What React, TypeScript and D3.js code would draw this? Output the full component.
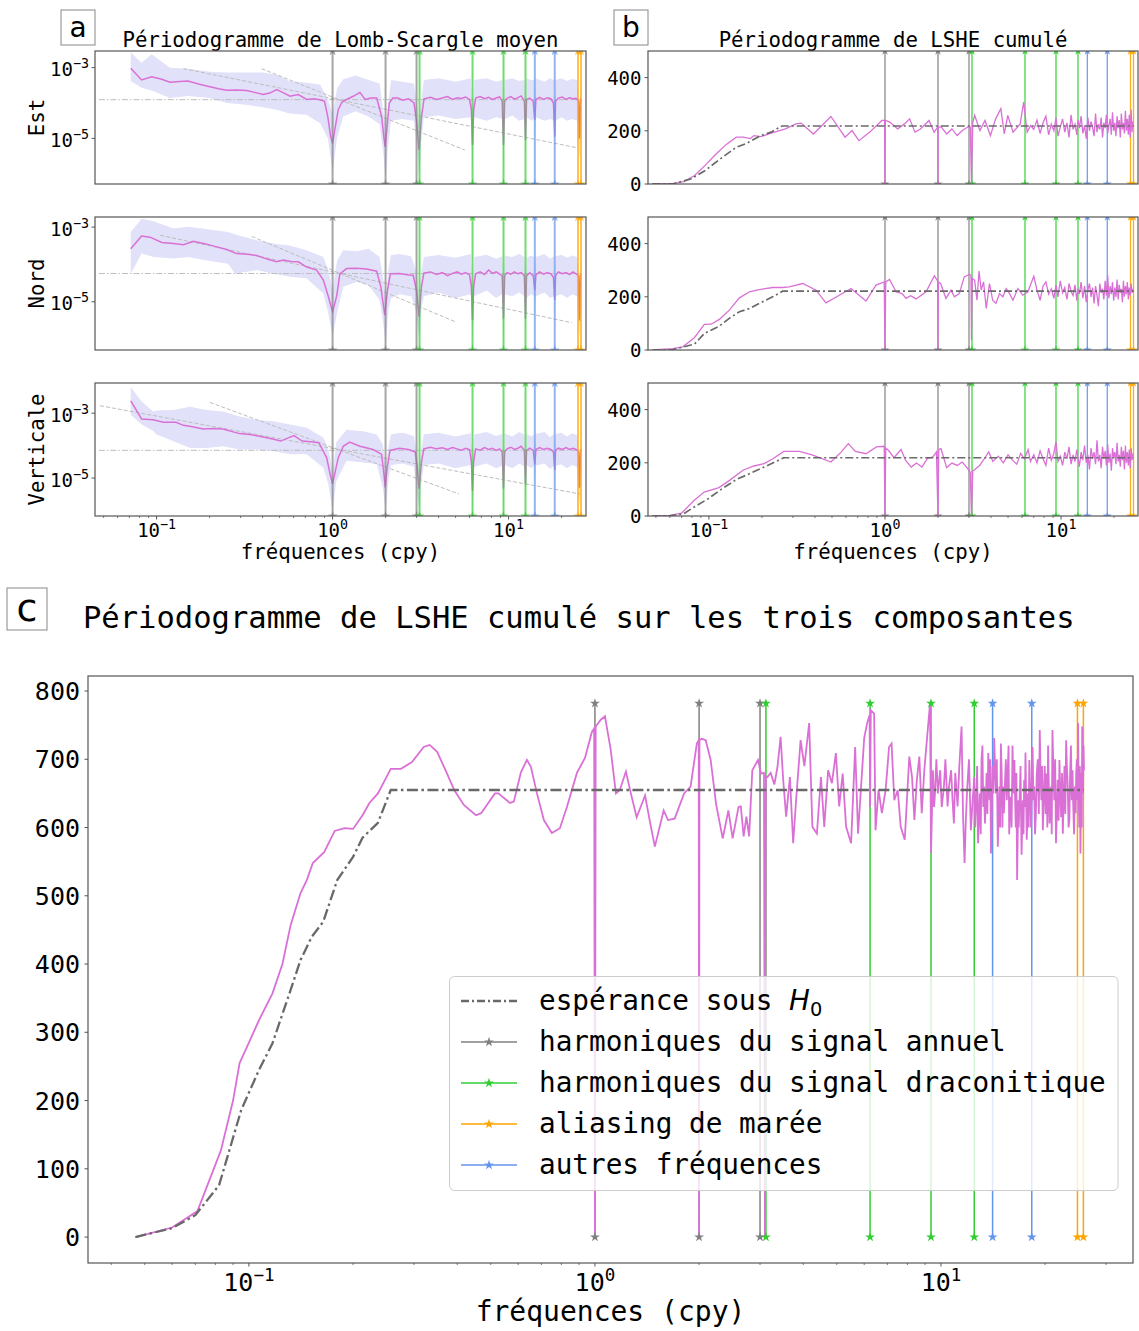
import React from 'react';
import * as d3 from 'd3';

type Pt = [number, number];
type Bd = [number, number, number];

// ===== Marked signal frequencies (cycles per year) =====
const annualFreqs = [1, 2, 3];
const draconiticFreqs = [3.12, 6.24, 9.36, 12.48];
const tidalAliasFreqs = [24.8, 25.8];
const otherFreqs = [14.1, 18.3];

// ===== Texts =====
const titleA = 'Périodogramme de Lomb-Scargle moyen';
const titleB = 'Périodogramme de LSHE cumulé';
const titleC = 'Périodogramme de LSHE cumulé sur les trois composantes';
const xLabelText = 'fréquences (cpy)';
const rowLabels = ['Est', 'Nord', 'Verticale'];
const legendLabels = ['espérance sous ', 'harmoniques du signal annuel', 'harmoniques du signal draconitique', 'aliasing de marée', 'autres fréquences'];
const freqTickExps = [-1, 0, 1];
const lombTickExps = [-3, -5];
const lsheTicksB = [0, 200, 400];
const lsheTicksC = [0, 100, 200, 300, 400, 500, 600, 700, 800];
const stemTopC = 782;

// ===== Panel a: mean Lomb-Scargle periodogram, log10 of power =====
const estMean: Pt[] = [[0.0713,-3.02],[0.0822,-3.35],[0.0938,-3.26],[0.107,-3.33],[0.119,-3.41],[0.135,-3.39],[0.151,-3.38],[0.175,-3.47],[0.201,-3.54],[0.225,-3.6],[0.25,-3.64],[0.285,-3.63],[0.325,-3.65],[0.36,-3.7],[0.403,-3.76],[0.44,-3.72],[0.481,-3.62],[0.52,-3.7],[0.573,-3.81],[0.638,-3.76],[0.713,-3.9],[0.78,-3.88],[0.848,-3.91],[0.9,-3.95],[0.94,-4.4],[0.975,-4.95],[1.0,-5.14],[1.03,-4.75],[1.077,-4.19],[1.13,-3.98],[1.2,-3.9],[1.31,-3.81],[1.43,-3.7],[1.53,-3.9],[1.65,-3.86],[1.78,-3.86],[1.9,-4.38],[1.96,-5.0],[1.99,-5.24],[2.03,-4.8],[2.1,-4.0],[2.2,-3.86],[2.35,-3.86],[2.5,-3.92],[2.7,-3.88],[2.9,-4.0],[3.0,-4.5],[3.1,-5.33],[3.2,-4.4],[3.31,-3.88],[3.6,-3.84],[3.9,-3.9],[4.2,-3.86],[4.5,-3.82],[4.8,-3.9],[5.1,-3.85],[5.4,-3.87],[5.7,-3.83],[6.0,-3.9],[6.15,-4.2],[6.24,-5.19],[6.33,-4.2],[6.5,-3.86],[6.9,-3.82],[7.3,-3.88],[7.7,-3.84],[8.1,-3.9],[8.5,-3.86],[8.9,-3.83],[9.2,-3.95],[9.36,-5.19],[9.5,-3.95],[9.8,-3.87],[10.3,-3.82],[10.8,-3.89],[11.3,-3.85],[11.8,-3.8],[12.3,-3.95],[12.48,-5.05],[12.65,-3.9],[13.2,-3.86],[13.8,-3.95],[14.1,-4.48],[14.3,-3.9],[15.0,-3.84],[15.8,-3.9],[16.6,-3.85],[17.4,-3.88],[18.0,-4.0],[18.3,-4.95],[18.5,-3.95],[19.2,-3.86],[20.2,-3.83],[21.2,-3.9],[22.2,-3.85],[23.2,-3.88],[24.2,-3.87],[25.0,-3.95],[25.3,-5.0],[25.6,-3.95],[25.9,-3.88]];
const estBand: Bd[] = [[0.0713,-3.38,-2.57],[0.0822,-3.57,-2.86],[0.0938,-3.65,-2.62],[0.119,-3.86,-3.0],[0.151,-3.8,-3.03],[0.2,-3.86,-3.12],[0.25,-4.0,-3.14],[0.32,-4.05,-3.14],[0.4,-4.12,-3.14],[0.48,-4.19,-3.2],[0.57,-4.3,-3.38],[0.71,-4.33,-3.43],[0.85,-4.57,-3.48],[0.94,-5.0,-3.9],[1.0,-5.95,-4.3],[1.06,-5.0,-3.6],[1.15,-4.38,-3.33],[1.35,-4.23,-3.22],[1.6,-4.38,-3.35],[1.85,-4.6,-3.45],[1.95,-5.5,-4.3],[2.0,-6.19,-4.6],[2.06,-5.3,-4.1],[2.15,-4.5,-3.35],[2.5,-4.45,-3.4],[2.9,-4.5,-3.45],[3.05,-5.5,-4.2],[3.1,-6.1,-4.6],[3.18,-5.2,-4.0],[3.3,-4.4,-3.35],[4.0,-4.35,-3.3],[5.0,-4.45,-3.4],[6.1,-4.4,-3.3],[6.24,-5.8,-4.5],[6.38,-4.4,-3.35],[7.5,-4.5,-3.3],[8.5,-4.4,-3.4],[9.2,-4.45,-3.35],[9.36,-5.8,-4.5],[9.5,-4.45,-3.35],[10.5,-4.35,-3.3],[11.5,-4.5,-3.38],[12.3,-4.45,-3.35],[12.48,-5.6,-4.4],[12.65,-4.4,-3.3],[13.5,-4.5,-3.36],[13.95,-4.45,-3.35],[14.1,-5.1,-4.0],[14.25,-4.4,-3.3],[16,-4.5,-3.4],[17.2,-4.45,-3.3],[18.1,-4.5,-3.35],[18.3,-5.4,-4.2],[18.5,-4.5,-3.35],[20,-4.4,-3.3],[21.5,-4.5,-3.38],[23,-4.45,-3.32],[24.5,-4.5,-3.35],[25.3,-5.6,-4.4],[25.9,-4.45,-3.35]];
const nordMean: Pt[] = [[0.0713,-3.58],[0.0822,-3.24],[0.0918,-3.27],[0.107,-3.41],[0.125,-3.44],[0.142,-3.47],[0.162,-3.38],[0.19,-3.45],[0.22,-3.53],[0.25,-3.6],[0.285,-3.71],[0.33,-3.73],[0.37,-3.76],[0.42,-3.85],[0.481,-3.93],[0.525,-3.88],[0.58,-3.92],[0.638,-3.93],[0.713,-4.07],[0.812,-4.15],[0.886,-4.42],[0.945,-4.85],[1.0,-5.27],[1.055,-4.85],[1.1,-4.25],[1.2,-4.11],[1.37,-4.1],[1.56,-4.12],[1.78,-4.18],[1.88,-4.6],[1.98,-5.36],[2.05,-4.7],[2.13,-4.25],[2.4,-4.24],[2.7,-4.28],[2.87,-4.29],[3.0,-4.7],[3.1,-5.4],[3.2,-4.6],[3.3,-4.23],[3.6,-4.2],[3.9,-4.27],[4.2,-4.22],[4.5,-4.3],[4.8,-4.24],[5.1,-4.2],[5.4,-4.26],[5.7,-4.22],[6.0,-4.28],[6.15,-4.6],[6.24,-5.49],[6.33,-4.6],[6.5,-4.25],[6.9,-4.2],[7.3,-4.27],[7.7,-4.15],[8.1,-4.24],[8.5,-4.2],[8.9,-4.26],[9.2,-4.3],[9.36,-5.45],[9.5,-4.3],[9.8,-4.22],[10.3,-4.26],[10.8,-4.2],[11.3,-4.25],[11.8,-4.22],[12.3,-4.3],[12.48,-5.45],[12.65,-4.3],[13.2,-4.22],[13.8,-4.3],[14.1,-4.69],[14.3,-4.28],[15.0,-4.2],[15.8,-4.26],[16.6,-4.22],[17.4,-4.25],[18.0,-4.35],[18.3,-4.95],[18.5,-4.3],[19.2,-4.2],[20.2,-4.25],[21.2,-4.22],[22.2,-4.27],[23.2,-4.2],[24.2,-4.25],[25.0,-4.3],[25.3,-5.5],[25.6,-4.3],[25.9,-4.25]];
const nordBand: Bd[] = [[0.0713,-4.25,-3.13],[0.0822,-3.71,-2.78],[0.097,-3.8,-2.85],[0.125,-3.84,-3.04],[0.151,-3.8,-2.99],[0.19,-3.89,-3.05],[0.254,-3.98,-3.13],[0.28,-4.25,-3.2],[0.32,-4.2,-3.27],[0.37,-4.15,-3.35],[0.46,-4.25,-3.44],[0.57,-4.33,-3.49],[0.71,-4.37,-3.62],[0.886,-4.78,-3.8],[0.945,-5.3,-4.15],[1.0,-5.93,-4.69],[1.06,-5.3,-3.9],[1.15,-4.6,-3.62],[1.37,-4.47,-3.65],[1.6,-4.55,-3.58],[1.85,-4.95,-3.8],[1.93,-5.5,-4.3],[2.0,-6.1,-4.9],[2.08,-5.2,-4.1],[2.15,-4.9,-3.75],[2.4,-4.8,-3.72],[2.8,-4.85,-3.78],[3.0,-5.3,-4.2],[3.1,-6.0,-4.9],[3.2,-5.2,-4.2],[3.3,-4.85,-3.8],[4.0,-4.75,-3.75],[5.0,-4.9,-3.82],[6.1,-4.8,-3.72],[6.24,-6.0,-4.9],[6.38,-4.85,-3.8],[7.5,-4.7,-3.74],[8.5,-4.9,-3.85],[9.2,-4.8,-3.78],[9.36,-6.0,-4.9],[9.5,-4.8,-3.76],[10.5,-4.85,-3.8],[11.5,-4.75,-3.72],[12.3,-4.85,-3.8],[12.48,-5.9,-4.8],[12.65,-4.9,-3.82],[13.5,-4.8,-3.76],[13.95,-4.85,-3.8],[14.1,-5.3,-4.2],[14.25,-4.85,-3.8],[16,-4.75,-3.72],[17.2,-4.9,-3.85],[18.1,-4.85,-3.78],[18.3,-5.5,-4.4],[18.5,-4.85,-3.78],[20,-4.8,-3.74],[21.5,-4.9,-3.82],[23,-4.8,-3.76],[24.5,-4.85,-3.8],[25.3,-6.0,-4.9],[25.9,-4.9,-3.8]];
const vertMean: Pt[] = [[0.0713,-2.62],[0.0822,-3.18],[0.0957,-3.2],[0.109,-3.28],[0.129,-3.28],[0.142,-3.375],[0.16,-3.42],[0.184,-3.49],[0.21,-3.47],[0.238,-3.49],[0.296,-3.63],[0.34,-3.66],[0.384,-3.71],[0.45,-3.79],[0.507,-3.86],[0.56,-3.76],[0.603,-3.69],[0.672,-3.86],[0.75,-3.88],[0.835,-3.91],[0.925,-4.37],[0.97,-4.9],[1.0,-5.18],[1.035,-4.8],[1.077,-4.37],[1.15,-4.02],[1.25,-3.89],[1.43,-4.02],[1.7,-4.12],[1.9,-4.27],[1.96,-4.9],[1.99,-5.29],[2.04,-4.7],[2.12,-4.15],[2.4,-4.08],[2.7,-4.12],[2.95,-4.2],[3.03,-4.7],[3.1,-5.33],[3.2,-4.5],[3.3,-4.1],[3.6,-4.05],[3.9,-4.1],[4.2,-4.07],[4.5,-4.12],[4.8,-4.06],[5.1,-4.1],[5.4,-4.14],[5.7,-4.08],[6.0,-4.12],[6.15,-4.5],[6.24,-5.4],[6.33,-4.5],[6.5,-4.1],[6.9,-4.14],[7.3,-4.06],[7.7,-4.12],[8.1,-4.08],[8.5,-4.15],[8.9,-4.1],[9.2,-4.2],[9.36,-5.33],[9.5,-4.2],[9.8,-4.1],[10.3,-4.05],[10.8,-4.12],[11.3,-4.08],[11.8,-4.02],[12.3,-4.15],[12.48,-5.2],[12.65,-4.15],[13.2,-4.08],[13.8,-4.15],[14.1,-4.57],[14.3,-4.12],[15.0,-4.06],[15.8,-4.12],[16.6,-4.08],[17.4,-4.12],[18.0,-4.2],[18.3,-4.75],[18.5,-4.15],[19.2,-4.08],[20.2,-4.12],[21.2,-4.06],[22.2,-4.12],[23.2,-4.08],[24.2,-4.12],[25.0,-4.2],[25.3,-5.3],[25.6,-4.2],[25.9,-4.12]];
const vertBand: Bd[] = [[0.0713,-3.05,-2.19],[0.0822,-3.35,-2.64],[0.0957,-3.55,-2.95],[0.1,-3.66,-2.92],[0.124,-3.86,-2.9],[0.155,-4.07,-2.8],[0.192,-4.07,-2.9],[0.238,-4.02,-2.95],[0.296,-4.12,-3.1],[0.37,-4.12,-3.2],[0.46,-4.17,-3.25],[0.573,-4.27,-3.35],[0.713,-4.27,-3.45],[0.886,-4.68,-3.76],[0.945,-5.18,-4.1],[1.0,-6.0,-4.78],[1.05,-5.1,-3.9],[1.2,-4.47,-3.51],[1.49,-4.52,-3.56],[1.78,-4.57,-3.66],[1.93,-5.3,-3.96],[2.0,-6.0,-4.7],[2.08,-5.0,-4.0],[2.15,-4.6,-3.65],[2.5,-4.55,-3.6],[2.9,-4.65,-3.7],[3.0,-5.3,-4.2],[3.1,-5.95,-4.75],[3.2,-5.1,-4.1],[3.3,-4.6,-3.65],[4.0,-4.55,-3.6],[5.0,-4.7,-3.72],[6.1,-4.6,-3.62],[6.24,-5.9,-4.7],[6.38,-4.65,-3.66],[7.5,-4.55,-3.58],[8.5,-4.7,-3.7],[9.2,-4.62,-3.64],[9.36,-5.9,-4.7],[9.5,-4.6,-3.62],[10.5,-4.7,-3.72],[11.5,-4.55,-3.58],[12.3,-4.65,-3.66],[12.48,-5.8,-4.6],[12.65,-4.6,-3.64],[13.5,-4.7,-3.72],[13.95,-4.62,-3.64],[14.1,-5.2,-4.1],[14.25,-4.62,-3.64],[16,-4.55,-3.58],[17.2,-4.72,-3.74],[18.1,-4.62,-3.64],[18.3,-5.4,-4.3],[18.5,-4.62,-3.64],[20,-4.58,-3.6],[21.5,-4.7,-3.72],[23,-4.6,-3.62],[24.5,-4.66,-3.68],[25.3,-5.9,-4.7],[25.9,-4.7,-3.72]];
// reference lines of panel a (log10 power)
const lombH0Levels = [-3.906, -4.243, -4.146];
const lombH0Span = [0.047, 26.1];
const estPowerLaw1: Pt[] = [[0.142,-3.03],[24.2,-5.26]];
const estPowerLaw2: Pt[] = [[0.395,-3.03],[5.65,-5.33]];
const nordPowerLaw1: Pt[] = [[0.105,-3.22],[22.9,-5.56]];
const nordPowerLaw2: Pt[] = [[0.347,-3.25],[4.96,-5.53]];
const vertPowerLaw1: Pt[] = [[0.0477,-2.77],[25.5,-5.49]];
const vertPowerLaw2: Pt[] = [[0.201,-2.67],[5.23,-5.49]];

// ===== Panel b: cumulated LSHE periodogram per component =====
const estLsheLow: Pt[] = [[0.0477,0],[0.0629,2.5],[0.072,9],[0.0826,31],[0.0948,69],[0.1087,110],[0.125,148],[0.143,176],[0.157,176],[0.172,171],[0.18,182],[0.197,178],[0.226,191],[0.272,207],[0.312,226],[0.334,229],[0.392,188],[0.493,254],[0.593,176],[0.65,201],[0.711,163],[0.82,195],[0.96,239],[0.995,240],[1.0,0],[1.005,240],[1.07,232],[1.18,207],[1.29,226],[1.38,245],[1.48,195],[1.59,207],[1.78,239],[1.9,195],[1.995,214],[2.0,0],[2.005,214],[2.09,214],[2.24,188],[2.4,207],[2.57,182],[2.75,201],[2.95,214],[3.05,214],[3.1,0],[3.15,230],[3.23,258],[3.46,201],[3.7,239],[3.97,182],[4.25,245],[4.55,283],[4.76,188],[4.98,258],[5.34,195],[5.86,226],[6.13,308],[6.42,195],[6.72,220]];
const nordLsheLow: Pt[] = [[0.0478,0],[0.0622,5],[0.071,12],[0.0827,46],[0.0942,96],[0.103,97],[0.1146,115],[0.1305,150],[0.149,196],[0.17,219],[0.193,227],[0.23,235],[0.262,235],[0.286,237],[0.341,250],[0.406,225],[0.462,177],[0.55,206],[0.641,231],[0.78,184],[0.889,244],[0.99,256],[1.0,0],[1.01,256],[1.06,265],[1.156,219],[1.25,212],[1.318,194],[1.4,204],[1.502,192],[1.711,219],[1.908,279],[1.99,260],[2.0,0],[2.01,255],[2.07,250],[2.22,194],[2.37,225],[2.48,200],[2.64,212],[2.82,275],[3.02,285],[3.08,280],[3.1,37],[3.13,270],[3.23,262],[3.33,187],[3.42,297],[3.52,225],[3.63,256],[3.76,156],[3.92,250],[4.09,187],[4.27,175],[4.47,212],[4.67,200],[4.88,231],[5.1,212],[5.33,187],[5.68,231],[6.07,206],[6.48,219]];
const vertLsheLow: Pt[] = [[0.0477,0],[0.06,2.5],[0.07,11],[0.0826,59],[0.094,90],[0.114,107],[0.131,134],[0.156,172],[0.18,188],[0.206,197],[0.232,216],[0.266,243],[0.327,243],[0.393,228],[0.493,203],[0.565,241],[0.619,272],[0.679,243],[0.78,234],[0.894,260],[0.99,262],[1.0,0],[1.01,255],[1.045,247],[1.125,219],[1.233,250],[1.31,209],[1.41,184],[1.51,199],[1.62,184],[1.74,216],[1.87,222],[1.96,241],[2.0,0],[2.02,250],[2.08,253],[2.24,182],[2.4,199],[2.57,190],[2.75,203],[2.95,178],[3.05,165],[3.1,0],[3.15,170],[3.2,172],[3.45,190],[3.7,219],[3.88,241],[4.1,205],[4.4,225],[4.7,200],[5.0,230],[5.3,210],[5.6,195],[5.9,235],[6.2,215],[6.5,250],[6.7,205]];
const bHighFreq = [7.0,7.3,7.6,7.9,8.2,8.5,8.8,9.1,9.36,9.6,9.9,10.2,10.5,10.8,11.1,11.4,11.7,12.0,12.3,12.48,12.7,13.0,13.3,13.6,13.9,14.2,14.5,14.8,15.1,15.4,15.7,16.0,16.3,16.6,16.9,17.2,17.5,17.8,18.1,18.4,18.7,19.0,19.3,19.6,19.9,20.2,20.5,20.8,21.1,21.4,21.7,22.0,22.3,22.6,22.9,23.2,23.5,23.8,24.1,24.4,24.7,25.0,25.3,25.6];
const estLsheHigh = [205,240,190,230,255,185,225,200, 250,180,215,245,195,230,175,260, 205,225,185,240,210,255,190,220, 170,250,200,235,215,180,265,195, 225,205,250,175,230,210,260,190, 220,245,185,270,200,230,180,255, 210,240,175,265,205,230,190,275, 200,245,185,260,175,280,195,235];
const nordLsheHigh = [277,225,187,240,256,210,230,194, 245,200,260,215,235,190,250,220, 205,245,185,230,210,255,195,240, 180,225,250,200,235,175,240,205, 165,250,215,230,190,260,205,281, 195,240,210,255,185,235,200,265, 190,245,215,230,180,260,200,240, 210,255,190,235,205,250,215,230];
const vertLsheHigh = [230,200,245,215,190,255,210,235, 280,205,225,190,240,215,260,195, 230,205,250,220,185,240,210,265, 200,230,175,255,215,240,195,285, 205,230,180,260,215,245,190,270, 200,235,170,255,220,240,195,275, 205,230,185,260,210,245,175,265, 200,240,190,250,180,255,210,235];
const estLsheH0: Pt[] = [[0.0477,0],[0.063,1],[0.0789,19],[0.0948,50],[0.119,100],[0.143,138],[0.164,153],[0.197,182],[0.226,195],[0.26,218],[25.9,218]];
const nordLsheH0: Pt[] = [[0.0478,0],[0.0622,1],[0.0827,22],[0.0942,62],[0.1146,90],[0.1305,119],[0.149,144],[0.17,156],[0.193,175],[0.23,200],[0.262,221],[25.9,221]];
const vertLsheH0: Pt[] = [[0.0477,0],[0.06,1],[0.072,9],[0.0826,34],[0.099,65],[0.119,103],[0.143,137],[0.17,159],[0.206,184],[0.237,203],[0.266,219],[25.9,219]];

// ===== Panel c: cumulated LSHE over the three components =====
const totalLshe: Pt[] = [[0.047,0],[0.06,14],[0.071,38],[0.083,127],[0.09,200],[0.094,255],[0.1,285],[0.107,318],[0.117,357],[0.125,400],[0.132,457],[0.141,504],[0.147,523],[0.153,548],[0.165,564],[0.177,595],[0.189,599],[0.2,598],[0.213,618],[0.223,636],[0.236,650],[0.257,686],[0.275,686],[0.296,696],[0.32,718],[0.333,721],[0.35,711],[0.373,680],[0.392,655],[0.418,633],[0.453,618],[0.469,621],[0.514,650],[0.526,650],[0.568,636],[0.583,638],[0.611,681],[0.636,699],[0.653,689],[0.68,650],[0.712,611],[0.751,592],[0.792,599],[0.83,630],[0.887,680],[0.936,702],[0.98,740],[0.995,745],[1.0,0],[1.005,748],[1.04,758],[1.069,763],[1.11,715],[1.15,650],[1.18,655],[1.229,682],[1.27,650],[1.32,615],[1.396,647],[1.44,610],[1.49,572],[1.58,625],[1.626,611],[1.7,613],[1.81,650],[1.89,660],[1.94,700],[1.97,723],[1.995,728],[2.0,0],[2.005,728],[2.036,730],[2.09,728],[2.16,699],[2.24,634],[2.34,584],[2.43,625],[2.5,584],[2.6,630],[2.64,631],[2.69,587],[2.74,616],[2.79,587],[2.85,684],[2.96,699],[3.02,679],[3.08,680],[3.1,0],[3.12,675],[3.15,674],[3.22,680],[3.3,663],[3.37,689],[3.44,733],[3.5,670],[3.57,616],[3.66,674],[3.74,577],[3.82,645],[3.93,728],[4.03,690],[4.16,753],[4.25,601],[4.38,591],[4.5,674],[4.6,601],[4.72,684],[4.84,665],[4.97,709],[5.08,631],[5.2,679],[5.32,601],[5.5,577],[5.65,718],[5.76,591],[6.0,731],[6.12,753],[6.22,765],[6.24,630],[6.27,772],[6.41,767],[6.47,596],[6.6,655],[6.75,621],[6.92,655],[7.08,718],[7.2,723],[7.33,640],[7.5,655],[7.65,601],[7.86,582],[8.1,704],[8.25,674],[8.38,611],[8.52,670],[8.66,704],[8.8,621],[8.95,684],[9.16,743],[9.3,782],[9.36,562],[9.48,684],[9.55,630],[9.6,645],[9.7,700],[9.8,650],[9.95,684],[10.05,630],[10.2,660],[10.3,700],[10.45,631],[10.55,660],[10.7,684],[10.8,640],[10.9,606],[11.0,680],[11.17,631],[11.3,690],[11.47,748],[11.58,620],[11.7,548],[11.8,610],[11.9,655],[12.05,700],[12.2,596],[12.35,640],[12.48,674],[12.56,600],[12.65,640],[12.72,690],[12.8,577],[12.88,620],[12.95,650],[13.03,590],[13.1,699],[13.18,720],[13.25,630],[13.32,660],[13.4,606],[13.48,640],[13.55,680],[13.62,620],[13.7,709],[13.76,680],[13.82,640],[13.88,700],[13.95,562],[14.02,620],[14.1,690],[14.18,650],[14.25,731],[14.33,690],[14.42,650],[14.5,700],[14.6,572],[14.68,620],[14.75,660],[14.82,600],[14.9,723],[14.98,680],[15.05,600],[15.12,660],[15.2,621],[15.3,660],[15.4,700],[15.5,640],[15.6,684],[15.68,720],[15.75,590],[15.82,630],[15.9,645],[16.0,600],[16.1,720],[16.2,650],[16.3,699],[16.38,640],[16.45,600],[16.52,680],[16.6,523],[16.66,580],[16.72,640],[16.78,600],[16.85,631],[16.92,660],[16.98,690],[17.04,620],[17.1,560],[17.18,610],[17.25,640],[17.32,590],[17.4,670],[17.48,630],[17.55,710],[17.62,650],[17.7,582],[17.78,620],[17.85,650],[17.92,600],[18.0,699],[18.1,660],[18.2,600],[18.3,650],[18.4,718],[18.5,640],[18.6,660],[18.7,590],[18.8,616],[18.92,680],[19.05,700],[19.18,620],[19.3,743],[19.4,680],[19.5,640],[19.6,690],[19.7,596],[19.82,640],[19.95,690],[20.08,620],[20.2,679],[20.3,600],[20.4,720],[20.5,660],[20.6,606],[20.7,640],[20.8,660],[20.9,590],[21.0,743],[21.12,690],[21.25,640],[21.38,700],[21.5,577],[21.62,620],[21.75,670],[21.88,610],[22.0,699],[22.12,650],[22.25,615],[22.38,680],[22.5,591],[22.62,640],[22.75,690],[22.88,620],[23.0,728],[23.12,690],[23.25,660],[23.38,600],[23.5,611],[23.62,680],[23.75,720],[23.88,640],[24.0,684],[24.12,630],[24.25,590],[24.38,660],[24.5,621],[24.6,680],[24.7,700],[24.8,640],[24.9,753],[25.0,660],[25.1,600],[25.2,690],[25.3,562],[25.38,620],[25.45,680],[25.52,600],[25.6,748],[25.68,700],[25.75,650],[25.82,720],[25.9,684]];
const totalH0: Pt[] = [[0.047,0],[0.06,13],[0.07,32],[0.082,76],[0.095,186],[0.107,245],[0.117,284],[0.132,362],[0.141,406],[0.152,440],[0.164,462],[0.18,523],[0.2,557],[0.213,585],[0.236,607],[0.257,655],[25.9,655]];

// ===== Styling =====
const MONO = "'DejaVu Sans Mono', monospace";
const SANS = "'DejaVu Sans', sans-serif";
const PINK = '#da70d6';
const BAND = '#e1e1f9';
const H0C = '#696969';
const REF = '#bdbdbd';
const SPINE = '#555555';
const groups = [
  { freqs: annualFreqs, color: '#808080' },
  { freqs: draconiticFreqs, color: '#32cd32' },
  { freqs: otherFreqs, color: '#6495ed' },
  { freqs: tidalAliasFreqs, color: '#ffa500' },
];
const legendColors = ['#808080', '#32cd32', '#ffa500', '#6495ed'];

const starPath = (s: number) => (d3.symbol().type(d3.symbolStar).size(s)() as string);

function Pow({ x, y, exp, size, anchor }: any) {
  const t = exp < 0 ? '\u2212' + Math.abs(exp) : String(exp);
  return (
    <text x={x} y={y} fontSize={size} fontFamily={MONO} textAnchor={anchor} fill="#000">
      10<tspan dy={-size * 0.42} fontSize={size * 0.7}>{t}</tspan>
    </text>
  );
}

function FreqAxis({ x, y, labelY, fontSize, majorLen, minorLen }: any) {
  const [d0, d1] = x.domain();
  const minors: number[] = [];
  [-2, -1, 0, 1].forEach((e) => {
    for (let m = 2; m <= 9; m++) {
      const v = m * Math.pow(10, e);
      if (v > d0 && v < d1) minors.push(v);
    }
  });
  return (
    <g>
      {minors.map((v) => (
        <line key={'m' + v} x1={x(v)} x2={x(v)} y1={y} y2={y + minorLen} stroke={SPINE} strokeWidth={0.8} />
      ))}
      {freqTickExps.map((e) => (
        <g key={e}>
          <line x1={x(Math.pow(10, e))} x2={x(Math.pow(10, e))} y1={y} y2={y + majorLen} stroke={SPINE} strokeWidth={1} />
          <Pow x={x(Math.pow(10, e))} y={labelY} exp={e} size={fontSize} anchor="middle" />
        </g>
      ))}
    </g>
  );
}

const A_L = 95, A_R = 586, B_L = 648, B_R = 1138;
const ROWS = [[51, 184], [217, 350], [383, 516]];
const xA = d3.scaleLog().domain([Math.pow(10, -1.35), Math.pow(10, 1.44)]).range([A_L, A_R]);
const xB = d3.scaleLog().domain([Math.pow(10, -1.346), Math.pow(10, 1.437)]).range([B_L, B_R]);

const lombRows = [
  { dom: [-6.29, -2.53], mean: estMean, band: estBand, pl1: estPowerLaw1, pl2: estPowerLaw2 },
  { dom: [-6.29, -2.73], mean: nordMean, band: nordBand, pl1: nordPowerLaw1, pl2: nordPowerLaw2 },
  { dom: [-6.17, -2.07], mean: vertMean, band: vertBand, pl1: vertPowerLaw1, pl2: vertPowerLaw2 },
];
const lsheRows = [
  { low: estLsheLow, high: estLsheHigh, h0: estLsheH0 },
  { low: nordLsheLow, high: nordLsheHigh, h0: nordLsheH0 },
  { low: vertLsheLow, high: vertLsheHigh, h0: vertLsheH0 },
];

function VLines({ x, top, bottom, width, opacity, starSize }: any) {
  return (
    <g>
      {groups.map((g, gi) =>
        g.freqs.map((f) => (
          <g key={gi + '-' + f}>
            <line x1={x(f)} x2={x(f)} y1={top} y2={bottom} stroke={g.color} strokeWidth={width} strokeOpacity={opacity} />
            <path transform={`translate(${x(f)},${top})`} d={starPath(starSize)} fill={g.color} fillOpacity={opacity} />
            <path transform={`translate(${x(f)},${bottom})`} d={starPath(starSize)} fill={g.color} fillOpacity={opacity} />
          </g>
        ))
      )}
    </g>
  );
}

function LombRow({ i }: any) {
  const [top, bottom] = ROWS[i];
  const r = lombRows[i];
  const y = d3.scaleLinear().domain(r.dom).range([bottom, top]);
  const area = d3.area<Bd>().x((d) => xA(d[0])).y0((d) => y(d[1])).y1((d) => y(d[2]));
  const line = d3.line<Pt>().x((d) => xA(d[0])).y((d) => y(d[1]));
  const id = 'clipA' + i;
  const h0y = y(lombH0Levels[i]);
  return (
    <g>
      <defs>
        <clipPath id={id}><rect x={A_L} y={top} width={A_R - A_L} height={bottom - top} /></clipPath>
      </defs>
      <g clipPath={`url(#${id})`}>
        <path d={area(r.band) as string} fill={BAND} />
        <line x1={xA(lombH0Span[0])} x2={xA(lombH0Span[1])} y1={h0y} y2={h0y} stroke={REF} strokeWidth={1} strokeDasharray="6,2,1.5,2" />
        <path d={line(r.pl1) as string} stroke={REF} strokeWidth={1} fill="none" strokeDasharray="4,2" />
        <path d={line(r.pl2) as string} stroke={REF} strokeWidth={1} fill="none" strokeDasharray="4,2" />
        <path d={line(r.mean) as string} stroke={PINK} strokeWidth={1.5} fill="none" />
        <VLines x={xA} top={top} bottom={bottom} width={2} opacity={0.7} starSize={30} />
      </g>
      <rect x={A_L} y={top} width={A_R - A_L} height={bottom - top} fill="none" stroke={SPINE} strokeWidth={1.2} />
      {lombTickExps.map((e) => (
        <g key={e}>
          <line x1={A_L - 3.5} x2={A_L} y1={y(e)} y2={y(e)} stroke={SPINE} strokeWidth={1} />
          <Pow x={A_L - 6} y={y(e) + 8.5} exp={e} size={19} anchor="end" />
        </g>
      ))}
      <text transform={`translate(44,${(top + bottom) / 2}) rotate(-90)`} textAnchor="middle" fontSize={20.7} fontFamily={MONO}>{rowLabels[i]}</text>
      {i === 2 && <FreqAxis x={xA} y={bottom} labelY={537} fontSize={19} majorLen={3.5} minorLen={2} />}
    </g>
  );
}

function LsheRow({ i }: any) {
  const [top, bottom] = ROWS[i];
  const r = lsheRows[i];
  const y = d3.scaleLinear().domain([0, 500]).range([bottom, top]);
  const data: Pt[] = [...r.low, ...(d3.zip(bHighFreq, r.high) as Pt[])];
  const line = d3.line<Pt>().x((d) => xB(d[0])).y((d) => y(d[1]));
  const id = 'clipB' + i;
  return (
    <g>
      <defs>
        <clipPath id={id}><rect x={B_L} y={top} width={B_R - B_L} height={bottom - top} /></clipPath>
      </defs>
      <g clipPath={`url(#${id})`}>
        <VLines x={xB} top={top} bottom={bottom} width={1.3} opacity={0.9} starSize={24} />
        <path d={line(data) as string} stroke={PINK} strokeWidth={1.3} fill="none" />
        <path d={line(r.h0) as string} stroke={H0C} strokeWidth={1.7} fill="none" strokeDasharray="8,3,2,3" />
      </g>
      <rect x={B_L} y={top} width={B_R - B_L} height={bottom - top} fill="none" stroke={SPINE} strokeWidth={1.2} />
      {lsheTicksB.map((v) => (
        <g key={v}>
          <line x1={B_L - 3.5} x2={B_L} y1={y(v)} y2={y(v)} stroke={SPINE} strokeWidth={1} />
          <text x={B_L - 6.5} y={y(v) + 7} textAnchor="end" fontSize={19} fontFamily={MONO}>{v}</text>
        </g>
      ))}
      {i === 2 && <FreqAxis x={xB} y={bottom} labelY={537} fontSize={19} majorLen={3.5} minorLen={2} />}
    </g>
  );
}

const C_L = 88, C_R = 1133, C_T = 676, C_B = 1263;
const xC = d3.scaleLog().domain([Math.pow(10, -1.465), Math.pow(10, 1.555)]).range([C_L, C_R]);
const yC = d3.scaleLinear().domain([-38, 822]).range([C_B, C_T]);

function PanelC() {
  const line = d3.line<Pt>().x((d) => xC(d[0])).y((d) => yC(d[1]));
  const rowY = [1001, 1042, 1083, 1124, 1165];
  return (
    <g>
      <defs>
        <clipPath id="clipC"><rect x={C_L} y={C_T} width={C_R - C_L} height={C_B - C_T} /></clipPath>
      </defs>
      <g clipPath="url(#clipC)">
        {groups.map((g, gi) =>
          g.freqs.map((f) => (
            <line key={gi + '-' + f} x1={xC(f)} x2={xC(f)} y1={yC(0)} y2={yC(stemTopC)} stroke={g.color} strokeWidth={1.5} />
          ))
        )}
        <path d={line(totalLshe) as string} stroke={PINK} strokeWidth={1.8} fill="none" />
        <path d={line(totalH0) as string} stroke={H0C} strokeWidth={2.3} fill="none" strokeDasharray="11,3.5,2.5,3.5" />
        {groups.map((g, gi) =>
          g.freqs.map((f) => (
            <g key={'s' + gi + '-' + f}>
              <path transform={`translate(${xC(f)},${yC(stemTopC)})`} d={starPath(30)} fill={g.color} />
              <path transform={`translate(${xC(f)},${yC(0)})`} d={starPath(30)} fill={g.color} />
            </g>
          ))
        )}
      </g>
      <rect x={C_L} y={C_T} width={C_R - C_L} height={C_B - C_T} fill="none" stroke={SPINE} strokeWidth={1.2} />
      {lsheTicksC.map((v) => (
        <g key={v}>
          <line x1={C_L - 3.5} x2={C_L} y1={yC(v)} y2={yC(v)} stroke={SPINE} strokeWidth={1} />
          <text x={C_L - 8} y={yC(v) + 9} textAnchor="end" fontSize={25} fontFamily={MONO}>{v}</text>
        </g>
      ))}
      <FreqAxis x={xC} y={C_B} labelY={1291} fontSize={25} majorLen={3.5} minorLen={2} />
      <text x={(C_L + C_R) / 2} y={1321} textAnchor="middle" fontSize={28} fontFamily={MONO}>{xLabelText}</text>
      {/* legend */}
      <rect x={449.5} y={976.5} width={668.5} height={214} rx={5} fill="#ffffff" fillOpacity={0.8} stroke="#cccccc" strokeWidth={1} />
      <line x1={461} x2={517} y1={rowY[0]} y2={rowY[0]} stroke={H0C} strokeWidth={2.3} strokeDasharray="8,3,2,3" />
      <text x={539} y={rowY[0] + 9} fontSize={27.7} fontFamily={MONO}>
        {legendLabels[0]}
        <tspan fontFamily={SANS} fontStyle="italic">H</tspan>
        <tspan fontFamily={SANS} fontSize={19.4} dy={6}>0</tspan>
      </text>
      {legendLabels.slice(1).map((t, k) => (
        <g key={t}>
          <line x1={461} x2={517} y1={rowY[k + 1]} y2={rowY[k + 1]} stroke={legendColors[k]} strokeWidth={1.5} />
          <path transform={`translate(489,${rowY[k + 1]})`} d={starPath(30)} fill={legendColors[k]} />
          <text x={539} y={rowY[k + 1] + 9} fontSize={27.7} fontFamily={MONO}>{t}</text>
        </g>
      ))}
    </g>
  );
}

function LetterBox({ x, y, w, h, letter, size, baseline }: any) {
  return (
    <g>
      <rect x={x} y={y} width={w} height={h} fill="#ffffff" stroke="#888888" strokeWidth={1} />
      <text x={x + w / 2} y={baseline} textAnchor="middle" fontSize={size} fontFamily={SANS}>{letter}</text>
    </g>
  );
}

export default function App() {
  return (
    <svg width={1139} height={1331} viewBox="0 0 1139 1331" style={{ position: 'absolute', left: 0, top: 0, background: '#fff' }}>
      <rect x={0} y={0} width={1139} height={1331} fill="#ffffff" />
      <LetterBox x={61} y={10} w={34} h={35} letter="a" size={28} baseline={37} />
      <LetterBox x={614} y={10} w={34} h={35} letter="b" size={28} baseline={37} />
      <LetterBox x={7} y={588} w={40} h={42} letter="c" size={38} baseline={621} />
      <text x={(A_L + A_R) / 2} y={47} textAnchor="middle" fontSize={20.7} fontFamily={MONO}>{titleA}</text>
      <text x={(B_L + B_R) / 2} y={47} textAnchor="middle" fontSize={20.7} fontFamily={MONO}>{titleB}</text>
      {[0, 1, 2].map((i) => <LombRow key={'a' + i} i={i} />)}
      {[0, 1, 2].map((i) => <LsheRow key={'b' + i} i={i} />)}
      <text x={(A_L + A_R) / 2} y={559} textAnchor="middle" fontSize={20.7} fontFamily={MONO}>{xLabelText}</text>
      <text x={(B_L + B_R) / 2} y={559} textAnchor="middle" fontSize={20.7} fontFamily={MONO}>{xLabelText}</text>
      <text x={83} y={628} fontSize={30.5} fontFamily={MONO}>{titleC}</text>
      <PanelC />
    </svg>
  );
}
